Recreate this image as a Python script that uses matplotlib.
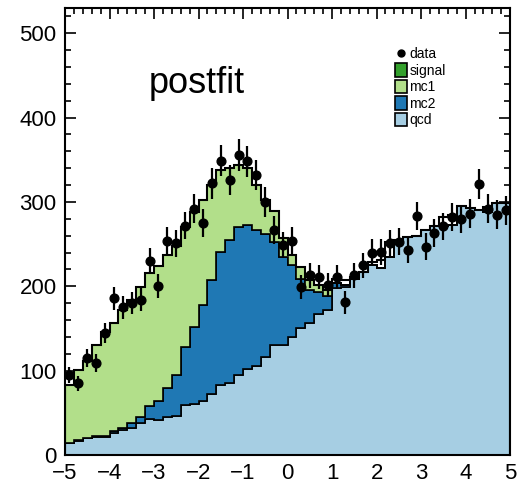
import numpy as np
import matplotlib
matplotlib.use("Agg")
import matplotlib.pyplot as plt
from matplotlib.patches import Patch
from matplotlib.lines import Line2D
from matplotlib.ticker import AutoMinorLocator, MultipleLocator

plt.rcParams['font.family'] = ['Liberation Sans', 'DejaVu Sans']

# ---- data (50 bins of width 0.2 from -5 to 5) ----
bin_edges = np.linspace(-5, 5, 51)

qcd = [13.8, 17, 19.7, 21, 21.7, 26.5, 29.6, 32.4, 37.5, 43,
       41.5, 44.6, 46, 59, 60.5, 64, 72, 83.5, 85, 95,
       102, 105.5, 116.5, 130.5, 130, 140, 150, 156.5, 167, 172,
       198, 199.5, 209, 217, 225, 222, 235, 255, 258, 260,
       266.6, 271, 272, 273, 295, 293, 290, 288, 299, 299]

mc2 = [0.5, 0.5, 0.8, 1, 1.2, 1.5, 2, 5, 7, 15,
       22.5, 34.4, 48.8, 69, 91, 114, 135, 157.5, 170, 175.5,
       171, 161.5, 146, 121.5, 105, 85, 59, 39, 26.5, 16,
       6.5, 2, 0, 0, 0, 0, 0, 0, 0, 0,
       0, 0, 0, 0, 0, 0, 0, 0, 0, 0]

mc1 = [68.7, 83.2, 91.5, 108, 123, 128, 140.4, 146.6, 154.5, 158,
       160, 158, 153, 142, 136.5, 124, 113, 97, 85, 73.5,
       67, 53, 39.4, 37, 22, 12, 14, 11.5, 7.5, 7.5,
       0, 0, 0, 0, 0, 0, 0, 0, 0, 0,
       0, 0, 0, 0, 0, 0, 0, 0, 0, 0]

signal = [0] * 50

total_model = [83, 100.7, 112, 130, 145.9, 156, 172, 184, 199, 216,
               224, 237, 247.8, 270, 288, 302, 320, 338, 340, 344,
               340, 320, 301.9, 289, 257, 237, 223, 207, 201, 195.5,
               209, 207, 211, 217, 229, 231, 253, 255, 258, 260,
               266.6, 271, 282, 285, 295, 293, 290, 294, 299, 299]

data = [95, 85, 115, 109, 145, 186, 175, 180, 184, 230,
        200, 254, 251, 272, 292, 275, 322, 349, 326, 356,
        348, 332, 300, 267, 249, 254, 199, 213, 211, 202,
        211, 181, 213, 225, 240, 241, 251, 253, 243, 283,
        247, 263, 271, 282, 280, 286, 321, 292, 285, 290]

labels = ['qcd', 'mc2', 'mc1', 'signal']
colors = ['#a6cee3', '#1f78b4', '#b2df8a', '#33a02c']

# ---- figure ----
fig = plt.figure(figsize=(5.2, 4.87), dpi=100)
ax = fig.add_axes([0.125, 0.0657, 0.856, 0.918])

components = [np.array(qcd, float), np.array(mc2, float),
              np.array(mc1, float), np.array(signal, float)]
base = np.zeros(50)
for comp, col in zip(components, colors):
    top = base + comp
    ax.stairs(top, bin_edges, baseline=base.copy(), fill=True,
              facecolor=col, edgecolor='black', linewidth=1.2, zorder=2)
    base = top

ax.stairs(np.array(total_model, float), bin_edges, color='black',
          linewidth=1.5, zorder=3)

centers = 0.5 * (bin_edges[1:] + bin_edges[:-1])
d = np.array(data, float)
ax.errorbar(centers, d, yerr=np.sqrt(d), fmt='o', color='black',
            markersize=6.3, elinewidth=1.6, capsize=0, zorder=4)

ax.set_xlim(-5, 5)
ax.set_ylim(0, 530)
ax.xaxis.set_major_locator(MultipleLocator(1))
ax.yaxis.set_major_locator(MultipleLocator(100))
ax.xaxis.set_minor_locator(AutoMinorLocator(5))
ax.yaxis.set_minor_locator(AutoMinorLocator(5))
ax.tick_params(which='both', direction='in', top=True, right=True,
               labelsize=16, width=1.2)
ax.tick_params(which='major', length=8, pad=6)
ax.tick_params(which='minor', length=4)
for s in ax.spines.values():
    s.set_linewidth(1.5)

ax.text(0.187, 0.81, 'postfit', transform=ax.transAxes, fontsize=26,
        va='baseline', ha='left')

handles = [Line2D([], [], marker='o', color='black', linestyle='none',
                  markersize=5),
           Patch(facecolor=colors[3], edgecolor='black', linewidth=1.2),
           Patch(facecolor=colors[2], edgecolor='black', linewidth=1.2),
           Patch(facecolor=colors[1], edgecolor='black', linewidth=1.2),
           Patch(facecolor=colors[0], edgecolor='black', linewidth=1.2)]
ax.legend(handles, ['data', 'signal', 'mc1', 'mc2', 'qcd'],
          loc='upper left', bbox_to_anchor=(0.73, 0.925), frameon=False,
          fontsize=10, handlelength=0.8, handleheight=1.1,
          handletextpad=0.2, labelspacing=0.15, borderaxespad=0)

fig.savefig('out.png', dpi=100)
